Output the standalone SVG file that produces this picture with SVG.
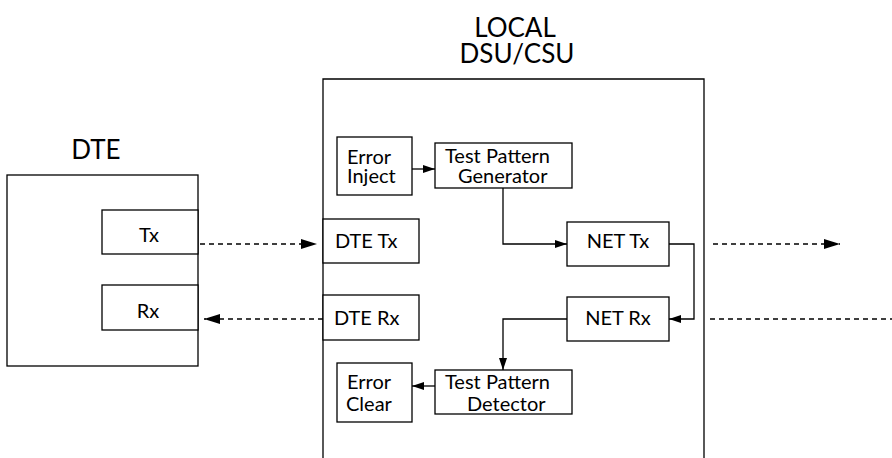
<svg xmlns="http://www.w3.org/2000/svg" width="892" height="458" viewBox="0 0 892 458">
<defs>
<style>
.box{fill:#fff;stroke:#000;stroke-width:1.3}
.lbl{font-family:Lato,"Open Sans","Liberation Sans",sans-serif;font-size:20px;fill:#000}
.big{font-family:Lato,"Open Sans","Liberation Sans",sans-serif;font-size:26px;fill:#000}
.ln{fill:none;stroke:#000;stroke-width:1.3}
.dash{fill:none;stroke:#000;stroke-width:1.6;stroke-dasharray:5 4}
</style>
<marker id="ah" markerUnits="userSpaceOnUse" markerWidth="12" markerHeight="8" refX="12" refY="4" orient="auto">
<path d="M0,0 L12,4 L0,8 Z" fill="#000"/>
</marker>
<marker id="ahL" markerUnits="userSpaceOnUse" markerWidth="16" markerHeight="10" refX="16" refY="5" orient="auto">
<path d="M0,0 L16,5 L0,10 Z" fill="#000"/>
</marker>
</defs>
<rect width="892" height="458" fill="#fff"/>

<g id="dte">
<rect class="box" x="7" y="175" width="191" height="191"/>
<text class="big" x="96" y="159" text-anchor="middle">DTE</text>
</g>
<g id="dte-tx"><rect class="box" x="102" y="210" width="96" height="44"/><text class="lbl" x="149" y="242" text-anchor="middle">Tx</text></g>
<g id="dte-rx"><rect class="box" x="102" y="285" width="96" height="45"/><text class="lbl" x="148" y="318" text-anchor="middle">Rx</text></g>

<g id="dsu">
<path class="ln" d="M323,460 L323,79 L704,79 L704,460"/>
<text class="big" x="515" y="37" text-anchor="middle">LOCAL</text>
<text class="big" x="517" y="63" text-anchor="middle">DSU/CSU</text>
</g>
<g id="dsu-dte-tx"><rect class="box" x="323" y="219" width="96" height="44"/><text class="lbl" x="335" y="248">DTE Tx</text></g>
<g id="dsu-dte-rx"><rect class="box" x="323" y="295" width="96" height="45"/><text class="lbl" x="334" y="325">DTE Rx</text></g>
<g id="error-inject"><rect class="box" x="337" y="137" width="75" height="58"/><text class="lbl" x="347" y="164">Error</text><text class="lbl" x="347" y="183">Inject</text></g>
<g id="tpg"><rect class="box" x="435" y="143" width="137" height="45"/><text class="lbl" x="445" y="163">Test Pattern</text><text class="lbl" x="458" y="183">Generator</text></g>
<g id="net-tx"><rect class="box" x="567" y="222" width="102" height="44"/><text class="lbl" x="618" y="248" text-anchor="middle">NET Tx</text></g>
<g id="net-rx"><rect class="box" x="567" y="297" width="102" height="44"/><text class="lbl" x="618" y="325" text-anchor="middle">NET Rx</text></g>
<g id="error-clear"><rect class="box" x="337" y="363" width="75" height="59"/><text class="lbl" x="347" y="389">Error</text><text class="lbl" x="346" y="411">Clear</text></g>
<g id="tpd"><rect class="box" x="435" y="370" width="137" height="44"/><text class="lbl" x="445" y="389">Test Pattern</text><text class="lbl" x="467" y="411">Detector</text></g>

<g id="connectors">
<line class="dash" x1="200" y1="244" x2="317" y2="244" marker-end="url(#ahL)"/>
<line class="dash" x1="323" y1="319" x2="204" y2="319" marker-end="url(#ahL)"/>
<line class="dash" x1="713" y1="244" x2="840" y2="244" marker-end="url(#ahL)"/>
<line class="dash" x1="710" y1="319" x2="892" y2="319"/>
<line class="ln" x1="412" y1="169" x2="435" y2="169" marker-end="url(#ah)"/>
<path class="ln" d="M503,188 L503,244 L567,244" marker-end="url(#ah)"/>
<path class="ln" d="M669,244 L694,244 L694,319 L669,319" marker-end="url(#ah)"/>
<path class="ln" d="M567,319 L503,319 L503,370" marker-end="url(#ah)"/>
<line class="ln" x1="435" y1="386" x2="412" y2="386" marker-end="url(#ah)"/>
</g>
</svg>
